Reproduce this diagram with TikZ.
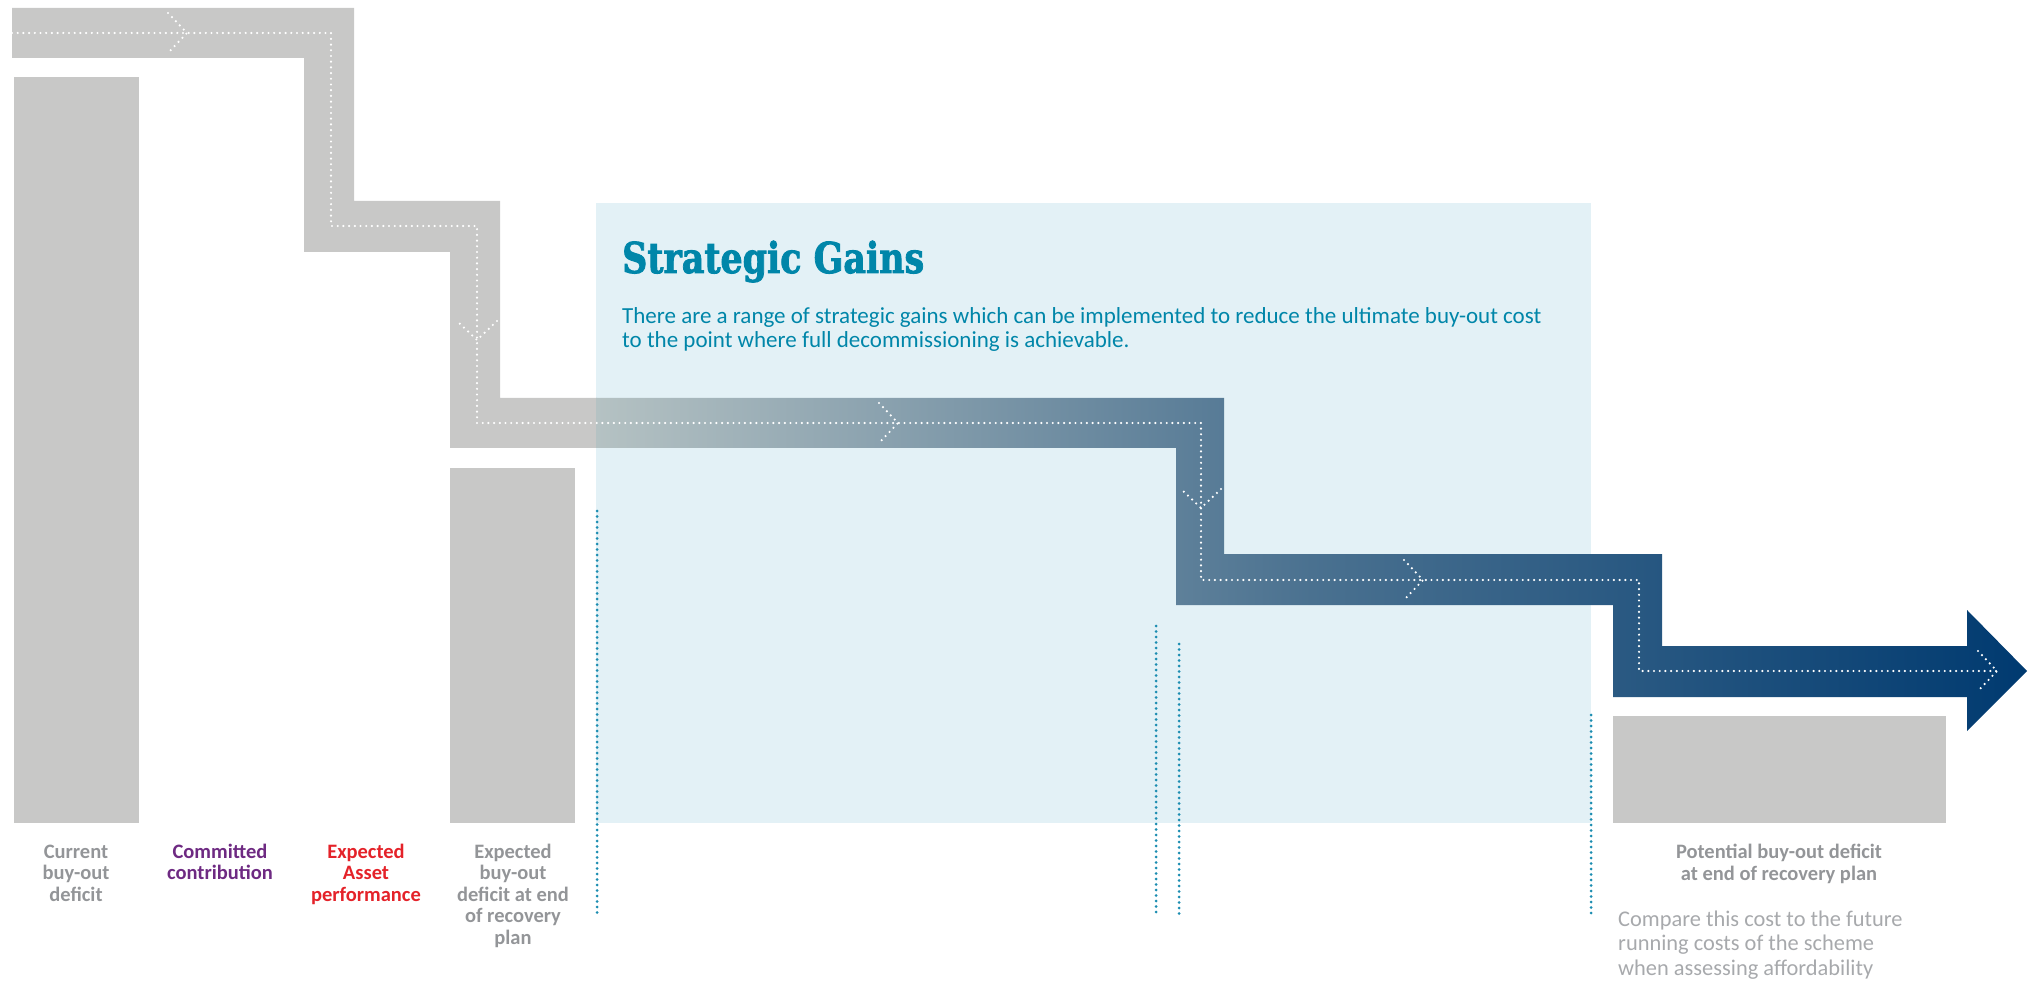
\documentclass[tikz,border=0pt]{standalone}
\usepackage{graphicx}
\usepackage{fontspec}
\setmainfont{Carlito}
\newfontfamily\slabfont[BoldFeatures={FakeBold=2.2}]{DejaVu Serif}
\usetikzlibrary{positioning}
\definecolor{bargray}{HTML}{C8C8C7}
\definecolor{panelblue}{HTML}{E3F1F6}
\definecolor{gaintext}{HTML}{0086A9}
\definecolor{tickteal}{HTML}{1C8DB1}
\definecolor{labelgray}{HTML}{939598}
\definecolor{notegray}{HTML}{A7A9AC}
\definecolor{commitpurple}{HTML}{6E2A82}
\definecolor{assetred}{HTML}{E42229}
\definecolor{pathstart}{HTML}{B5C2C3}
\definecolor{pathmid}{HTML}{4A7190}
\definecolor{pathnavy}{HTML}{003A70}

\begin{document}
\begin{tikzpicture}[
  x=1pt, y=-1pt,
  bar/.style={rectangle, fill=bargray, inner sep=0pt, anchor=south west},
  lbl/.style={align=center, inner sep=0pt, anchor=base, font=\fontsize{20.5}{21.5}\selectfont\bfseries},
  whitedots/.style={draw=white, line width=2.4pt, line cap=round, dash pattern=on 0pt off 5.7pt},
  tickline/.style={draw=tickteal, line width=3pt, line cap=round, dash pattern=on 0pt off 5.5pt}
]
  \useasboundingbox (0,0) rectangle (2038,981);

  \node[rectangle, fill=panelblue, inner sep=0pt, anchor=north west, minimum width=995pt, minimum height=620pt] (panel) at (596,203) {};

  \node[bar, minimum width=125pt, minimum height=746pt] (curbar) at (14,823) {};
  \node[bar, minimum width=125pt, minimum height=355pt] (expbar) at (450,823) {};
  \node[bar, minimum width=333pt, minimum height=107pt] (potbar) at (1613,823) {};

  \fill[bargray] (12,8) -- (354,8) -- (354,201) -- (500,201) -- (500,398) -- (597,398)
    -- (597,448) -- (450,448) -- (450,252) -- (304,252) -- (304,58) -- (12,58) -- cycle;
  \shade[left color=pathstart, right color=pathnavy, middle color=pathmid]
    (596,398) -- (1224,398) -- (1224,554) -- (1662,554) -- (1662,646) -- (1967,646)
    -- (1967,610) -- (2027,671) -- (1967,731) -- (1967,697) -- (1613,697) -- (1613,605)
    -- (1176,605) -- (1176,448) -- (596,448) -- cycle;

  \draw[whitedots] (12,33) -| (331,226) -| (477,423) -| (1201,580) -| (1639,671) -- (1997,671);
  \foreach \cx/\cy/\ang in {187/33/0, 477/340/-90, 898/423/0, 1201/508/-90, 1423/580/0, 1997/671/0}
    \draw[whitedots, rotate around={\ang:(\cx,\cy)}] (\cx-19,\cy-20) -- (\cx,\cy) -- (\cx-19,\cy+20);

  \draw[tickline] (597,511) -- (597,914);
  \draw[tickline] (1156,626) -- (1156,914);
  \draw[tickline] (1179,644) -- (1179,914);
  \draw[tickline] (1591,715) -- (1591,914);

  \node[anchor=base west, inner sep=0pt, text=gaintext, font=\slabfont\bfseries\fontsize{42.5}{48}\selectfont] (title) at (622,273) {\scalebox{0.82}[1]{Strategic Gains}};
  \node[anchor=base west, inner sep=0pt, align=left, text=gaintext, font=\fontsize{23}{24}\selectfont] (blurb) at (622,348)
    {There are a range of strategic gains which can be implemented to reduce the ultimate buy-out cost\\to the point where full decommissioning is achievable.};

  \node[lbl, text=labelgray] (curlbl) at (76,901) {Current\\buy-out\\deficit};
  \node[lbl, text=commitpurple] (comlbl) at (220,879.5) {Committed\\contribution};
  \node[lbl, text=assetred] (assetlbl) at (366,901) {Expected\\Asset\\performance};
  \node[lbl, text=labelgray] (explbl) at (513,944) {Expected\\buy-out\\deficit at end\\of recovery\\plan};
  \node[lbl, text=labelgray, font=\fontsize{20.5}{22}\selectfont\bfseries] (potlbl) at (1779,880) {Potential buy-out deficit\\at end of recovery plan};
  \node[anchor=base west, inner sep=0pt, align=left, text=notegray, font=\fontsize{22.4}{24.5}\selectfont] (note) at (1618,975)
    {Compare this cost to the future\\running costs of the scheme\\when assessing affordability};
\end{tikzpicture}
\end{document}
